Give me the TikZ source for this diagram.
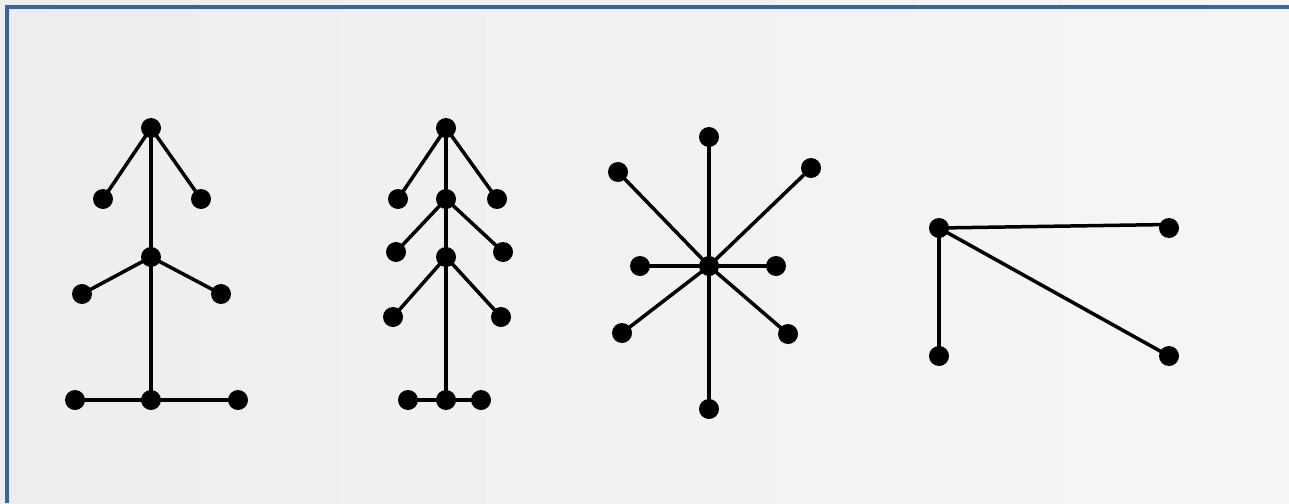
\documentclass[tikz,border=0pt]{standalone}
\begin{document}
\begin{tikzpicture}[x=1pt,y=-1pt,
  dot/.style={circle,fill=black,draw=none,inner sep=0pt,minimum size=20pt},
  edge/.style={line width=3.5pt,black}]
\definecolor{frameblue}{HTML}{3465A8}
\useasboundingbox (0,0) rectangle (1289,503);
\shade[left color=black!7,right color=black!3.5] (0,0) rectangle (1289,503);
\draw[frameblue,line width=4pt] (7,503) -- (7,7) -- (1289,7);
% tree 1
\node[dot] (a1) at (151,128) {};
\node[dot] (a2) at (103,199) {};
\node[dot] (a3) at (201,199) {};
\node[dot] (a4) at (151,257) {};
\node[dot] (a5) at (82,294) {};
\node[dot] (a6) at (221,294) {};
\node[dot] (a7) at (151,400) {};
\node[dot] (a8) at (75,400) {};
\node[dot] (a9) at (238,400) {};
\draw[edge] (a1.center) -- (a2.center);
\draw[edge] (a1.center) -- (a3.center);
\draw[edge] (a1.center) -- (a4.center);
\draw[edge] (a4.center) -- (a5.center);
\draw[edge] (a4.center) -- (a6.center);
\draw[edge] (a4.center) -- (a7.center);
\draw[edge] (a7.center) -- (a8.center);
\draw[edge] (a7.center) -- (a9.center);
% tree 2
\node[dot] (b1) at (446,128) {};
\node[dot] (b2) at (398,199) {};
\node[dot] (b3) at (497,199) {};
\node[dot] (b4) at (446,199) {};
\node[dot] (b5) at (396,252) {};
\node[dot] (b6) at (503,252) {};
\node[dot] (b7) at (446,257) {};
\node[dot] (b8) at (393,317) {};
\node[dot] (b9) at (501,317) {};
\node[dot] (b10) at (446,400) {};
\node[dot] (b11) at (408,400) {};
\node[dot] (b12) at (481,400) {};
\draw[edge] (b1.center) -- (b2.center);
\draw[edge] (b1.center) -- (b3.center);
\draw[edge] (b1.center) -- (b4.center);
\draw[edge] (b4.center) -- (b5.center);
\draw[edge] (b4.center) -- (b6.center);
\draw[edge] (b4.center) -- (b7.center);
\draw[edge] (b7.center) -- (b8.center);
\draw[edge] (b7.center) -- (b9.center);
\draw[edge] (b7.center) -- (b10.center);
\draw[edge] (b10.center) -- (b11.center);
\draw[edge] (b10.center) -- (b12.center);
% star
\node[dot] (c0) at (709,266) {};
\node[dot] (c1) at (709,137) {};
\node[dot] (c2) at (811,168) {};
\node[dot] (c3) at (776,266) {};
\node[dot] (c4) at (788,334) {};
\node[dot] (c5) at (709,409) {};
\node[dot] (c6) at (622,333) {};
\node[dot] (c7) at (640,266) {};
\node[dot] (c8) at (618,172) {};
\foreach \i in {1,...,8} {\draw[edge] (c0.center) -- (c\i.center);}
% fourth
\node[dot] (d1) at (939,228) {};
\node[dot] (d2) at (1169,228) {};
\node[dot] (d3) at (939,356) {};
\node[dot] (d4) at (1169,356) {};
\coordinate (d2e) at (1169,224.5);
\draw[edge] (d1.center) -- (d2e);
\draw[edge] (d1.center) -- (d3.center);
\draw[edge] (d1.center) -- (d4.center);
\end{tikzpicture}
\end{document}
